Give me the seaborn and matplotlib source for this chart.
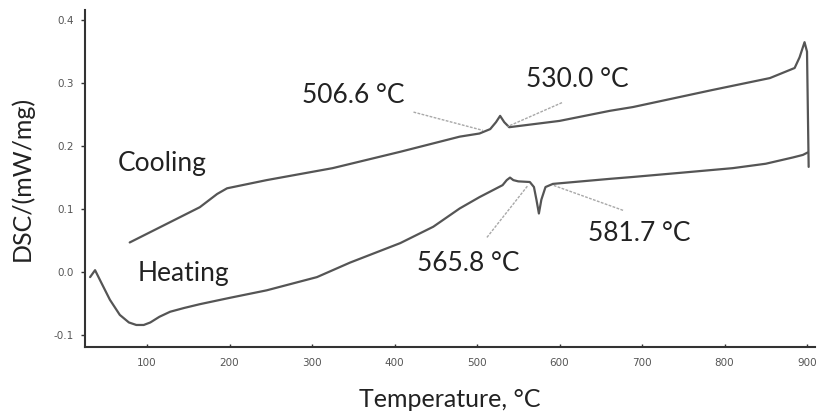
import numpy as np
import pandas as pd
import matplotlib
matplotlib.use("Agg")
import matplotlib.pyplot as plt
import seaborn as sns

# ---- data ----
heating_T = [31, 37, 45, 55, 67, 78, 87, 96, 104, 115, 128, 145, 164, 200, 245, 306, 346, 407, 447,
             479, 503, 531, 536, 540, 544, 550, 564, 569, 572, 575, 578, 583, 592, 661, 689, 750,
             810, 850, 883, 895, 901]
heating_dsc = [-0.008, 0.003, -0.018, -0.044, -0.068, -0.080, -0.084, -0.084, -0.080, -0.071, -0.063,
               -0.057, -0.051, -0.041, -0.029, -0.008, 0.015, 0.046, 0.072,
               0.101, 0.119, 0.138, 0.146, 0.150, 0.146, 0.144, 0.143, 0.135, 0.115, 0.093, 0.115,
               0.135, 0.140, 0.148, 0.151, 0.158, 0.165, 0.172, 0.182, 0.186, 0.190]

cooling_T = [79, 120, 164, 185, 197, 245, 325, 407, 479, 503, 516, 523, 528, 533, 539, 600, 661, 689,
             785, 855, 885, 891, 897, 900, 902]
cooling_dsc = [0.047, 0.074, 0.103, 0.124, 0.133, 0.146, 0.165, 0.191, 0.215, 0.220, 0.227, 0.238,
               0.248, 0.238, 0.230, 0.240, 0.256, 0.262, 0.289, 0.308, 0.324, 0.341, 0.365, 0.350, 0.167]

x_ticks = [100, 200, 300, 400, 500, 600, 700, 800, 900]
y_ticks = [-0.1, 0.0, 0.1, 0.2, 0.3, 0.4]
y_tick_labels = ["-0.1", "0.0", "0.1", "0.2", "0.3", "0.4"]

# annotations: label, text position, leader start, leader end
ann_labels = ["506.6 °C", "530.0 °C", "565.8 °C", "581.7 °C"]
ann_text_xy = [(350, 0.281), (621, 0.306), (489, 0.014), (697, 0.062)]
ann_lead_from = [(423, 0.254), (603, 0.269), (512, 0.055), (677, 0.098)]
ann_lead_to = [(507, 0.225), (537, 0.231), (562, 0.138), (592, 0.138)]

series_labels = ["Cooling", "Heating"]
series_label_xy = [(65, 0.173), (88, -0.002)]

# ---- plot ----
sns.set_style("white")
plt.rcParams['font.family'] = ['Lato', 'DejaVu Sans']

fig = plt.figure(figsize=(8.22, 4.19), dpi=100)
ax = fig.add_axes([0.1034, 0.1718, 0.8881, 0.8042])

line_color = "#555555"
sns.lineplot(x=cooling_T, y=cooling_dsc, sort=False, estimator=None, ax=ax,
             color=line_color, linewidth=1.6)
sns.lineplot(x=heating_T, y=heating_dsc, sort=False, estimator=None, ax=ax,
             color=line_color, linewidth=1.6)

for (x0, y0), (x1, y1) in zip(ann_lead_from, ann_lead_to):
    ax.plot([x0, x1], [y0, y1], color="#a8a8a8", linewidth=1.0, linestyle=(0, (2, 1)))

for lab, (tx, ty) in zip(ann_labels, ann_text_xy):
    ax.text(tx, ty, lab, ha="center", va="center", fontsize=19, color="#222222")

for lab, (tx, ty) in zip(series_labels, series_label_xy):
    ax.text(tx, ty, lab, ha="left", va="center", fontsize=19, color="#222222")

ax.set_xlim(24.8, 909.7)
ax.set_ylim(-0.119, 0.416)
ax.set_xticks(x_ticks)
ax.set_xticklabels([str(t) for t in x_ticks], fontsize=7.5, color="#555555", family="DejaVu Sans")
ax.set_yticks(y_ticks)
ax.set_yticklabels(y_tick_labels, fontsize=7.5, color="#555555", family="DejaVu Sans")
ax.tick_params(axis="y", which="major", direction="out", length=3, width=1, color="#333333", pad=5, left=True)
ax.tick_params(axis="x", which="major", direction="in", length=2, width=1, color="#333333", pad=8, bottom=True)

for side in ["top", "right"]:
    ax.spines[side].set_visible(False)
for side in ["left", "bottom"]:
    ax.spines[side].set_color("#333333")
    ax.spines[side].set_linewidth(1.5)

ax.set_xlabel("Temperature, °C", fontsize=18, color="#222222", labelpad=14)
ax.set_ylabel("DSC/(mW/mg)", fontsize=18, color="#222222", labelpad=14)

fig.savefig("out.png", dpi=100)
